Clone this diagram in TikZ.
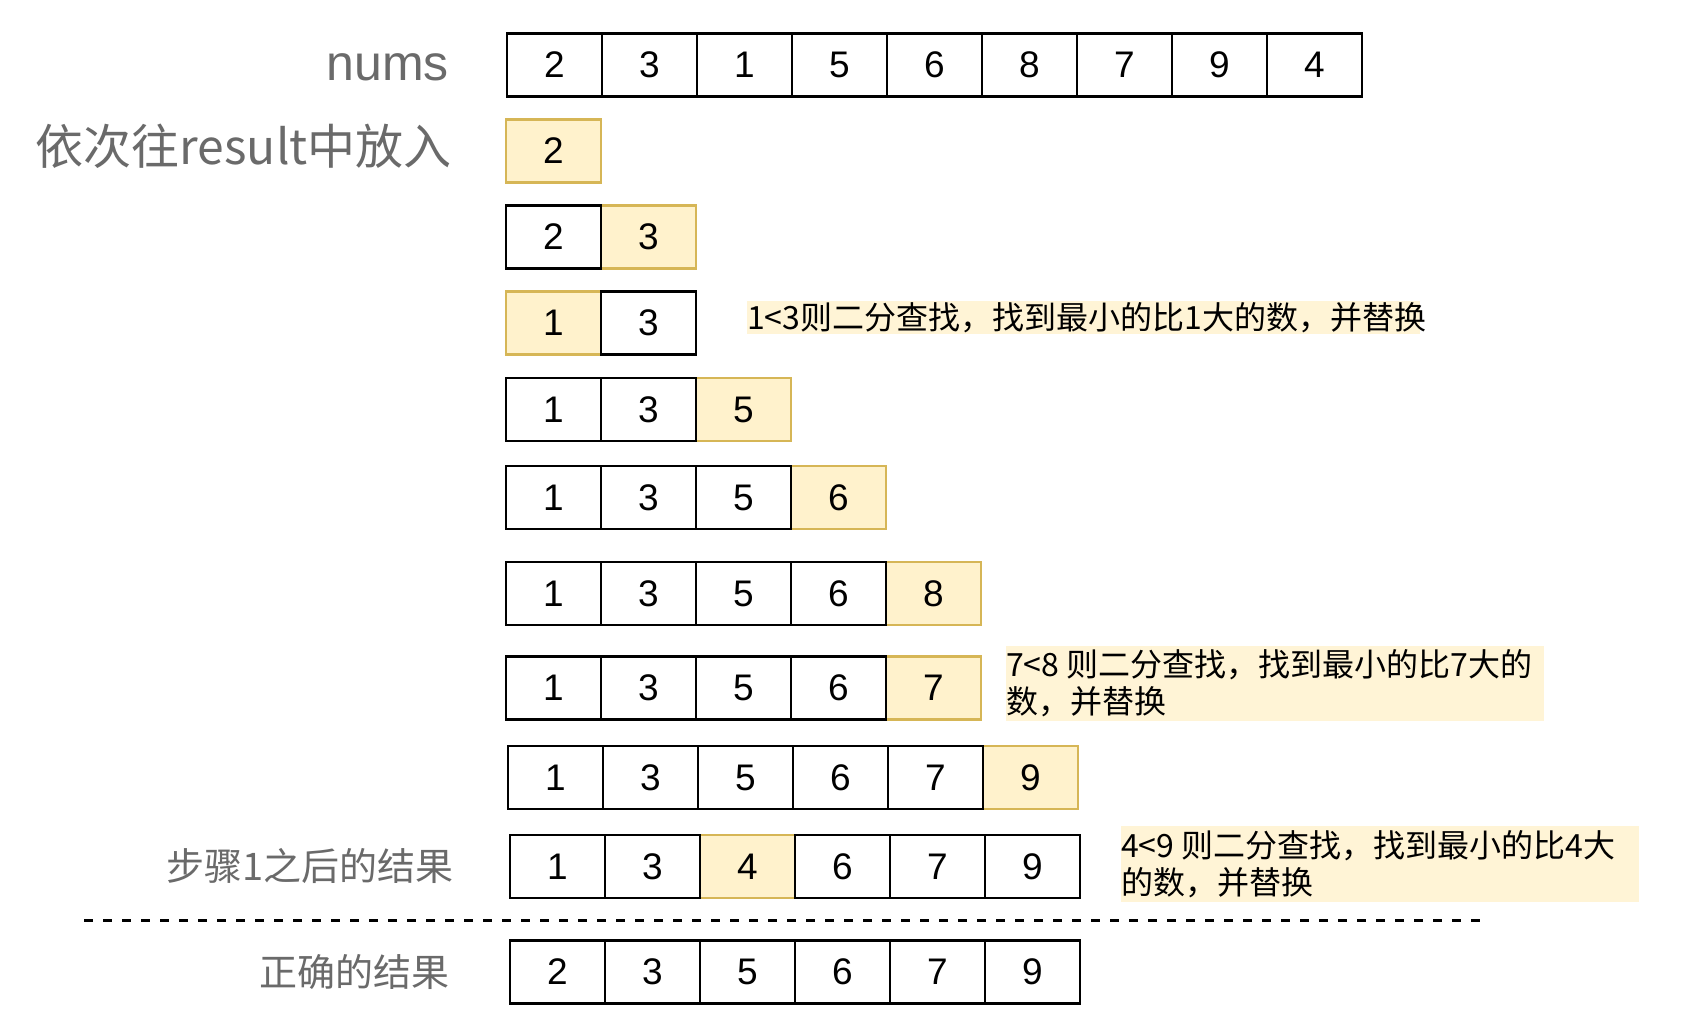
\documentclass[tikz,border=0pt]{standalone}
\usepackage{fontspec}
\setmainfont{Liberation Sans}
\newfontfamily\cjk{Noto Sans CJK SC}
\definecolor{hlfill}{HTML}{FFF2CC}
\definecolor{hldraw}{HTML}{D6B656}
\definecolor{notefill}{HTML}{FFF4D6}
\definecolor{lblgray}{HTML}{6A6A6A}
\begin{document}
\begin{tikzpicture}[x=1pt,y=-1pt,
  cell/.style={draw=black,line width=2.8pt,fill=white,minimum width=95pt,minimum height=63pt,inner sep=0pt,font=\fontsize{37}{37}\selectfont},
  hl/.style={fill=hlfill,draw=hldraw,line width=2.2pt},
  lbl/.style={anchor=east,text=lblgray,inner sep=0pt},
  notebox/.style={fill=notefill,draw=none,anchor=north west,inner sep=0pt},
  notetext/.style={anchor=west,align=left,inner sep=0pt,font=\cjk\fontsize{32}{37}\selectfont},
  sepline/.style={draw=black,line width=3pt,dash pattern=on 9pt off 10pt}]
\fill[white] (0,0) rectangle (1687,1027);
\useasboundingbox (0,0) rectangle (1687,1027);
\foreach \r/\yy/\xx/\vals/\h in {
  0/65/507/{2,3,1,5,6,8,7,9,4}/0,
  1/151/506/{2}/1,
  2/237/506/{2,3}/2,
  3/323/506/{1,3}/1,
  4/409.5/506/{1,3,5}/3,
  5/497.5/506/{1,3,5,6}/4,
  6/593.5/506/{1,3,5,6,8}/5,
  7/688/506/{1,3,5,6,7}/5,
  8/777.5/508/{1,3,5,6,7,9}/6,
  9/866.5/510/{1,3,4,6,7,9}/3,
  10/972/510/{2,3,5,6,7,9}/0}{
  \foreach \v [count=\i] in \vals {\ifnum\i=\h\relax \node[cell,hl] (r\r c\i) at ({\xx+95*\i-47.5},\yy) {\v};\fi}
  \foreach \v [count=\i] in \vals {\ifnum\i=\h\relax\else \node[cell] (r\r c\i) at ({\xx+95*\i-47.5},\yy) {\v};\fi}
}
% labels
\node[lbl,font=\fontsize{50}{50}\selectfont] (lnums) at (449,67) {nums};
\node[lbl,font=\cjk\fontsize{48}{48}\selectfont] (lres) at (452,146) {依次往result中放入};
\node[lbl,font=\cjk\fontsize{38}{38}\selectfont] (lstep) at (454,866) {步骤1之后的结果};
\node[lbl,font=\cjk\fontsize{38}{38}\selectfont] (lok) at (450,972) {正确的结果};
% notes
\node[notebox,minimum width=673pt,minimum height=33pt] (n1) at (747,301) {};
\node[notetext] (n1t) at (n1.west) {1<3则二分查找，找到最小的比1大的数，并替换};
\node[notebox,minimum width=538pt,minimum height=75pt] (n2) at (1006,646) {};
\node[notetext] (n2t) at (n2.west) {7<8 则二分查找，找到最小的比7大的\\数，并替换};
\node[notebox,minimum width=518pt,minimum height=76pt] (n3) at (1121,826) {};
\node[notetext] (n3t) at (n3.west) {4<9 则二分查找，找到最小的比4大\\的数，并替换};
% separator
\coordinate (d1) at (84,920);
\coordinate (d2) at (1485,920);
\draw[sepline] (d1) -- (d2);
\end{tikzpicture}
\end{document}
